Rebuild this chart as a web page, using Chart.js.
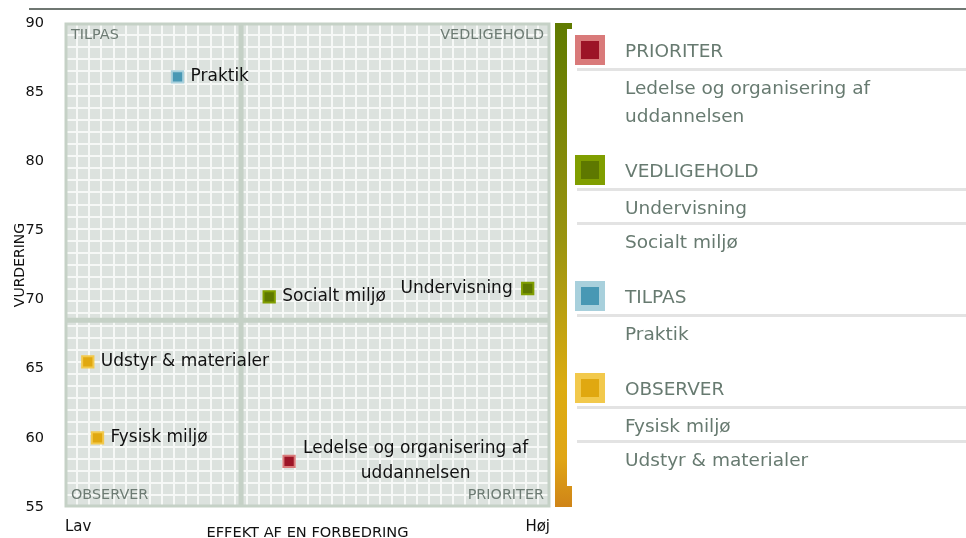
<!DOCTYPE html>
<html>
<head>
<meta charset="utf-8">
<script src="https://cdn.jsdelivr.net/npm/chart.js@4"></script>
<style>
  html, body { margin: 0; padding: 0; background: #fff; }
  #wrap { position: relative; width: 966px; height: 538px; overflow: hidden; font-family: "DejaVu Sans", sans-serif; }
  #chart { position: absolute; left: 0; top: 0; }
  #legend { position: absolute; left: 575px; top: 35px; width: 391px; color: #677a70; font-size: 18.5px; }
  .group { margin-bottom: 25px; }
  .head { display: flex; align-items: center; height: 30px; margin-bottom: 3px; }
  .swatch { width: 18px; height: 18px; border: 6px solid; }
  .head span { margin-left: 20px; }
  .item { margin-left: 2px; border-top: 3px solid #e3e3e3; padding: 3px 0 0 48px; line-height: 28px; }
</style>
</head>
<body>
<div id="wrap">
  <canvas id="chart" width="966" height="538"></canvas>
  <div id="legend"></div>
</div>
<script>
// quadrant categories, in legend order
const categories = ['PRIORITER', 'VEDLIGEHOLD', 'TILPAS', 'OBSERVER'];
const fillColors = ['#9c1426', '#5e7800', '#4898b4', '#e0a810'];
const edgeColors = ['#d97a7a', '#809e00', '#a8d0dc', '#f2c94c'];

// the points: effect of an improvement (x) and rating (y)
const itemNames = ['Praktik', 'Socialt miljø', 'Undervisning', 'Udstyr & materialer', 'Fysisk miljø', 'Ledelse og organisering af uddannelsen'];
const effectValues = [23.2, 42.1, 95.4, 4.7, 6.7, 46.2];
const ratingValues = [86.1, 70.2, 70.8, 65.5, 60.0, 58.3];

// where the quadrants split
const effectSplit = 36.3;
const ratingSplit = 68.5;

const ratingMin = 55, ratingMax = 90, ratingStep = 5;
const effectMin = 0, effectMax = 100;
const effectEnds = ['Lav', 'Høj'];
const xTitle = 'EFFEKT AF EN FORBEDRING';
const yTitle = 'VURDERING';

const FONT = '"DejaVu Sans", sans-serif';
Chart.defaults.font.family = FONT;

function quadrantOf(x, y) {
  if (x >= effectSplit) return y >= ratingSplit ? 'VEDLIGEHOLD' : 'PRIORITER';
  return y >= ratingSplit ? 'TILPAS' : 'OBSERVER';
}

const datasets = categories.map((cat, ci) => {
  const data = itemNames
    .map((name, i) => ({ x: effectValues[i], y: ratingValues[i], name }))
    .filter(p => quadrantOf(p.x, p.y) === cat)
    .sort((a, b) => b.x - a.x);
  return {
    label: cat,
    data,
    pointStyle: 'rect',
    pointRadius: 8,
    borderWidth: 2,
    backgroundColor: fillColors[ci],
    borderColor: edgeColors[ci]
  };
});

// legend on the right
const legend = document.getElementById('legend');
datasets.forEach((ds, ci) => {
  const g = document.createElement('div');
  g.className = 'group';
  g.innerHTML = `<div class="head"><div class="swatch" style="background:${fillColors[ci]};border-color:${edgeColors[ci]}"></div><span>${ds.label}</span></div>` +
    ds.data.map(p => `<div class="item">${p.name}</div>`).join('');
  legend.appendChild(g);
});

function wrapText(ctx, text, maxWidth) {
  const words = text.split(' ');
  const lines = [];
  let line = '';
  words.forEach(w => {
    const test = line ? line + ' ' + w : w;
    if (ctx.measureText(test).width > maxWidth && line) {
      lines.push(line);
      line = w;
    } else {
      line = test;
    }
  });
  lines.push(line);
  return lines;
}

const backdrop = {
  id: 'backdrop',
  beforeDatasetsDraw(chart) {
    const ctx = chart.ctx;
    const { left, right, top, bottom } = chart.chartArea;
    const w = right - left, h = bottom - top;
    const xs = chart.scales.x, ys = chart.scales.y;
    ctx.save();

    // rule across the top
    ctx.fillStyle = '#6f7772';
    ctx.fillRect(29, 8, 966 - 29, 2);

    // plot background with fine grid
    ctx.fillStyle = '#dce2de';
    ctx.fillRect(left, top, w, h);
    ctx.strokeStyle = '#f6f8f6';
    ctx.lineWidth = 2;
    ctx.beginPath();
    for (let i = 1; i < 40; i++) {
      const gx = Math.round(left + w * i / 40);
      const gy = Math.round(top + h * i / 40);
      ctx.moveTo(gx, top); ctx.lineTo(gx, bottom);
      ctx.moveTo(left, gy); ctx.lineTo(right, gy);
    }
    ctx.stroke();

    // quadrant dividers and frame
    ctx.strokeStyle = '#c5d1c6';
    ctx.lineWidth = 5;
    const sx = xs.getPixelForValue(effectSplit);
    const sy = ys.getPixelForValue(ratingSplit);
    ctx.beginPath();
    ctx.moveTo(sx, top); ctx.lineTo(sx, bottom);
    ctx.moveTo(left, sy); ctx.lineTo(right, sy);
    ctx.stroke();
    ctx.lineWidth = 3;
    ctx.strokeRect(left + 1, top + 1, w - 2, h - 2);

    // quadrant names in the corners
    ctx.fillStyle = '#6d7b73';
    ctx.font = '14.4px ' + FONT;
    ctx.textBaseline = 'middle';
    ctx.textAlign = 'left';
    ctx.fillText(quadrantOf(effectMin, ratingMax), left + 6, top + 12);
    ctx.fillText(quadrantOf(effectMin, ratingMin), left + 6, bottom - 12);
    ctx.textAlign = 'right';
    ctx.fillText(quadrantOf(effectMax, ratingMax), right - 6, top + 12);
    ctx.fillText(quadrantOf(effectMax, ratingMin), right - 6, bottom - 12);

    // colour bar
    const bx = right + 5;
    const grad = ctx.createLinearGradient(0, top, 0, bottom);
    grad.addColorStop(0, '#5f7a00');
    grad.addColorStop(0.45, '#9a9410');
    grad.addColorStop(0.75, '#dcac12');
    grad.addColorStop(0.9, '#e0a616');
    grad.addColorStop(1, '#cf8418');
    ctx.fillStyle = grad;
    ctx.fillRect(bx, top, 17, h);
    ctx.fillStyle = '#ffffff';
    ctx.fillRect(bx + 12, top + 6, 6, h - 27);

    // x axis title
    ctx.fillStyle = '#111';
    ctx.font = '14.6px ' + FONT;
    ctx.textAlign = 'center';
    ctx.textBaseline = 'alphabetic';
    ctx.fillText(xTitle, (left + right) / 2, 537);
    ctx.restore();
  },
  afterDatasetsDraw(chart) {
    const ctx = chart.ctx;
    const { right } = chart.chartArea;
    ctx.save();
    ctx.font = '17px ' + FONT;
    ctx.fillStyle = '#111';
    ctx.textBaseline = 'middle';
    chart.data.datasets.forEach((ds, di) => {
      chart.getDatasetMeta(di).data.forEach((pt, j) => {
        const lines = wrapText(ctx, ds.data[j].name, 245);
        const widest = Math.max(...lines.map(l => ctx.measureText(l).width));
        let cx, align;
        if (pt.x + 14 + widest > right - 5) {
          align = 'right'; cx = pt.x - 15;
        } else if (lines.length > 1) {
          align = 'center'; cx = pt.x + 14 + widest / 2;
        } else {
          align = 'left'; cx = pt.x + 13;
        }
        ctx.textAlign = align;
        lines.forEach((l, k) => {
          ctx.fillText(l, cx, pt.y + (k - (lines.length - 1) / 2) * 25);
        });
      });
    });
    ctx.restore();
  }
};

new Chart(document.getElementById('chart'), {
  type: 'scatter',
  data: { datasets },
  options: {
    responsive: false,
    animation: false,
    events: [],
    layout: { padding: { top: 23, right: 416, left: 0, bottom: 0 } },
    plugins: { legend: { display: false }, tooltip: { enabled: false } },
    scales: {
      x: {
        min: effectMin,
        max: effectMax,
        grid: { display: false },
        border: { display: false },
        ticks: {
          stepSize: effectMax - effectMin,
          align: 'inner',
          padding: 3,
          color: '#111',
          font: { size: 15 },
          callback: v => v === effectMin ? effectEnds[0] : effectEnds[1]
        },
        afterFit: s => { s.height = 31; }
      },
      y: {
        min: ratingMin,
        max: ratingMax,
        grid: { display: false },
        border: { display: false },
        ticks: { stepSize: ratingStep, padding: 13, color: '#111', font: { size: 14.5 } },
        title: { display: true, text: yTitle, color: '#111', font: { size: 14 }, padding: { top: 12, bottom: 0 } },
        afterFit: s => { s.width = 65; }
      }
    }
  },
  plugins: [backdrop]
});
</script>
</body>
</html>
